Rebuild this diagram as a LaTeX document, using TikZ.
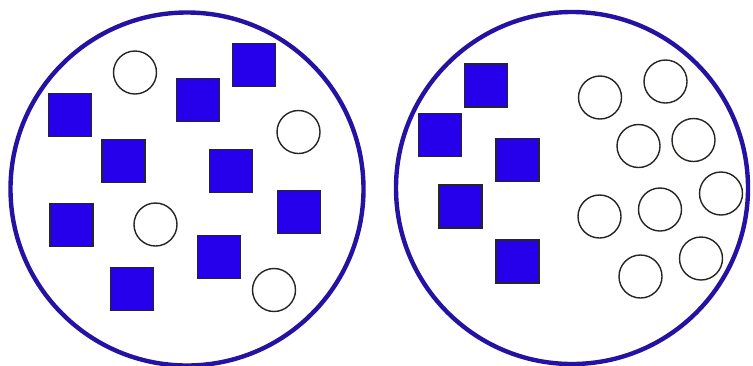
\documentclass[tikz,border=0pt]{standalone}
\definecolor{ringblue}{RGB}{36,18,165}
\definecolor{sqblue}{RGB}{38,0,235}
\definecolor{dotgray}{RGB}{40,36,32}
\tikzset{
  ring/.style={draw=ringblue, line width=4.4bp, circle, inner sep=0pt},
  sq/.style={draw=black!85, fill=sqblue, line width=1.3bp, rectangle, minimum size=43bp, inner sep=0pt},
  dot/.style={draw=dotgray, line width=1.4bp, circle, minimum size=43bp, inner sep=0pt, fill=white},
}
\begin{document}
\begin{tikzpicture}[x=1bp,y=-1bp]
\useasboundingbox (0,0) rectangle (753,365);
\node[ring, minimum size=353bp] (L) at (187,189) {};
\node[ring, minimum size=352bp] (R) at (572,188) {};
% left squares
\node[sq] (l1) at (70,115) {};
\node[sq] (l2) at (123.5,161) {};
\node[sq] (l3) at (198,100) {};
\node[sq] (l4) at (254,65) {};
\node[sq] (l5) at (231,171) {};
\node[sq] (l6) at (71.5,225) {};
\node[sq] (l7) at (299,212) {};
\node[sq] (l8) at (219,257) {};
\node[sq] (l9) at (132,289) {};
% left circles
\node[dot] (la) at (135,72.5) {};
\node[dot] (lb) at (298.5,132) {};
\node[dot] (lc) at (155.5,224.5) {};
\node[dot] (ld) at (274,290) {};
% right squares
\node[sq] (r1) at (486,85.5) {};
\node[sq] (r2) at (440,135) {};
\node[sq] (r3) at (517.5,160) {};
\node[sq] (r4) at (460.5,206.5) {};
\node[sq] (r5) at (517.5,261.5) {};
% right circles
\node[dot] (ra) at (600,97.5) {};
\node[dot] (rb) at (665.5,81.5) {};
\node[dot] (rc) at (638.5,146) {};
\node[dot] (rd) at (693.5,140) {};
\node[dot] (re) at (599.5,216.5) {};
\node[dot] (rf) at (660,209.5) {};
\node[dot] (rg) at (721,193.5) {};
\node[dot] (rh) at (640.5,276.5) {};
\node[dot] (ri) at (701,258.5) {};
\end{tikzpicture}
\end{document}
